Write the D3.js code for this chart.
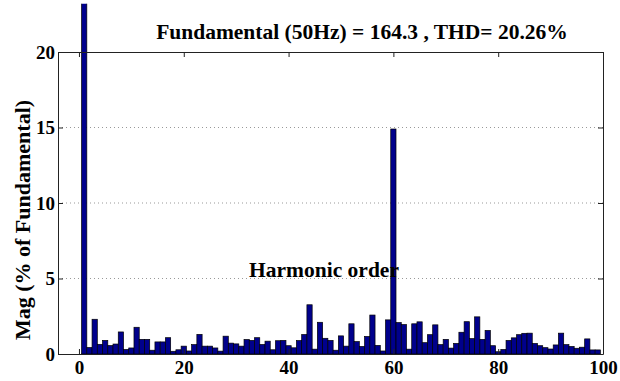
<!DOCTYPE html>
<meta charset="utf-8">
<title>FFT analysis</title>
<style>
  body { margin: 0; background: #fff; }
  text { font-family: "Liberation Serif", "Times New Roman", serif; font-weight: bold; }
</style>
<body>
<script src="https://cdn.jsdelivr.net/npm/d3@7"></script>
<script>

var width = 620,
    height = 381;

// harmonic order -> magnitude (% of fundamental)
var orders = d3.range(0, 100);
var mags = [
  0, 100, 0.43, 2.3, 0.64, 0.9, 0.56, 0.66, 1.46, 0.3,
  0.4, 1.77, 0.97, 0.97, 0.25, 0.8, 0.8, 1.08, 0.18, 0.28,
  0.52, 0.2, 0.62, 1.3, 0.52, 0.52, 0.4, 0.19, 1.18, 0.72,
  0.67, 0.52, 0.96, 0.9, 1.08, 0.63, 0.85, 0.28, 0.88, 0.9,
  0.55, 0.41, 0.89, 1.29, 3.26, 0.32, 2.1, 1.04, 0.9, 0.25,
  1.2, 0.52, 2.0, 0.82, 0.5, 1.16, 2.58, 0.57, 0.2, 2.26,
  14.9, 2.08, 1.95, 0.32, 2.0, 2.13, 0.75, 1.28, 1.93, 0.62,
  0.97, 0.39, 0.7, 1.44, 2.14, 1.02, 2.46, 0.97, 1.56, 0.55,
  0.15, 0.3, 0.9, 1.07, 1.28, 1.37, 1.38, 0.7, 0.55, 0.42,
  0.33, 0.6, 1.38, 0.62, 0.5, 0.38, 0.45, 1.0, 0.27, 0.27
];
var xTicks = [0, 20, 40, 60, 80, 100];
var yTicks = [0, 5, 10, 15, 20];

var title = "Fundamental (50Hz) = 164.3 , THD= 20.26%";
var xLabel = "Harmonic order";
var yLabel = "Mag (% of Fundamental)";

var padL = 58, padR = 603, padT = 52, padB = 354;

var x = d3.scaleLinear().domain([-4, 100]).range([padL, padR]);
var y = d3.scaleLinear().domain([0, 20]).range([padB, padT]);
var bw = x(1) - x(0);

var svg = d3.select("body").append("svg")
    .attr("width", width)
    .attr("height", height);

// the fundamental bar runs past the box, cut off near the top of the figure
svg.append("clipPath").attr("id", "clip")
  .append("rect")
    .attr("x", padL).attr("y", y(23.2))
    .attr("width", padR - padL).attr("height", padB - y(23.2));

// grid
svg.append("g").selectAll("line")
    .data(yTicks.filter(function(d){ return d > 0 && d < 20; }))
  .enter().append("line")
    .attr("x1", padL).attr("x2", padR)
    .attr("y1", function(d){ return y(d); })
    .attr("y2", function(d){ return y(d); })
    .style("stroke", "#999")
    .style("stroke-width", 1)
    .style("stroke-dasharray", "1,3");

// bars
svg.append("g").attr("clip-path", "url(#clip)")
  .selectAll("rect")
    .data(orders)
  .enter().append("rect")
    .attr("x", function(d){ return x(d) - bw/2; })
    .attr("width", bw)
    .attr("y", function(d){ return y(mags[d]); })
    .attr("height", function(d){ return padB - y(mags[d]); })
    .style("fill", "#00008c")
    .style("stroke", "#000")
    .style("stroke-width", 0.7);

// axes, ticks inward like matlab
var ax = svg.append("g").attr("class", "axes");

ax.append("g")
    .attr("transform", "translate(0," + padB + ")")
    .call(d3.axisBottom(x).tickValues(xTicks).tickSize(-5).tickPadding(7).tickSizeOuter(0));
ax.append("g")
    .attr("transform", "translate(0," + padT + ")")
    .call(d3.axisTop(x).tickValues(xTicks).tickSize(-5).tickSizeOuter(0).tickFormat(""));
ax.append("g")
    .attr("transform", "translate(" + padL + ",0)")
    .call(d3.axisLeft(y).tickValues(yTicks).tickSize(-5).tickPadding(3).tickSizeOuter(0));
ax.append("g")
    .attr("transform", "translate(" + padR + ",0)")
    .call(d3.axisRight(y).tickValues(yTicks).tickSize(-5).tickSizeOuter(0).tickFormat(""));

ax.selectAll(".domain, .tick line").style("stroke", "#222");
ax.selectAll(".tick text")
    .style("font-family", "'Liberation Serif', serif")
    .style("font-weight", "bold")
    .style("font-size", "19px")
    .style("fill", "#000");

// texts
svg.append("text")
    .attr("x", 362).attr("y", 39)
    .attr("text-anchor", "middle")
    .style("font-size", "21.5px")
    .text(title);

svg.append("text")
    .attr("x", 324).attr("y", 277)
    .attr("text-anchor", "middle")
    .style("font-size", "21.5px")
    .text(xLabel);

svg.append("text")
    .attr("transform", "translate(30,220) rotate(-90)")
    .attr("text-anchor", "middle")
    .style("font-size", "22px")
    .text(yLabel);

</script>
</body>
